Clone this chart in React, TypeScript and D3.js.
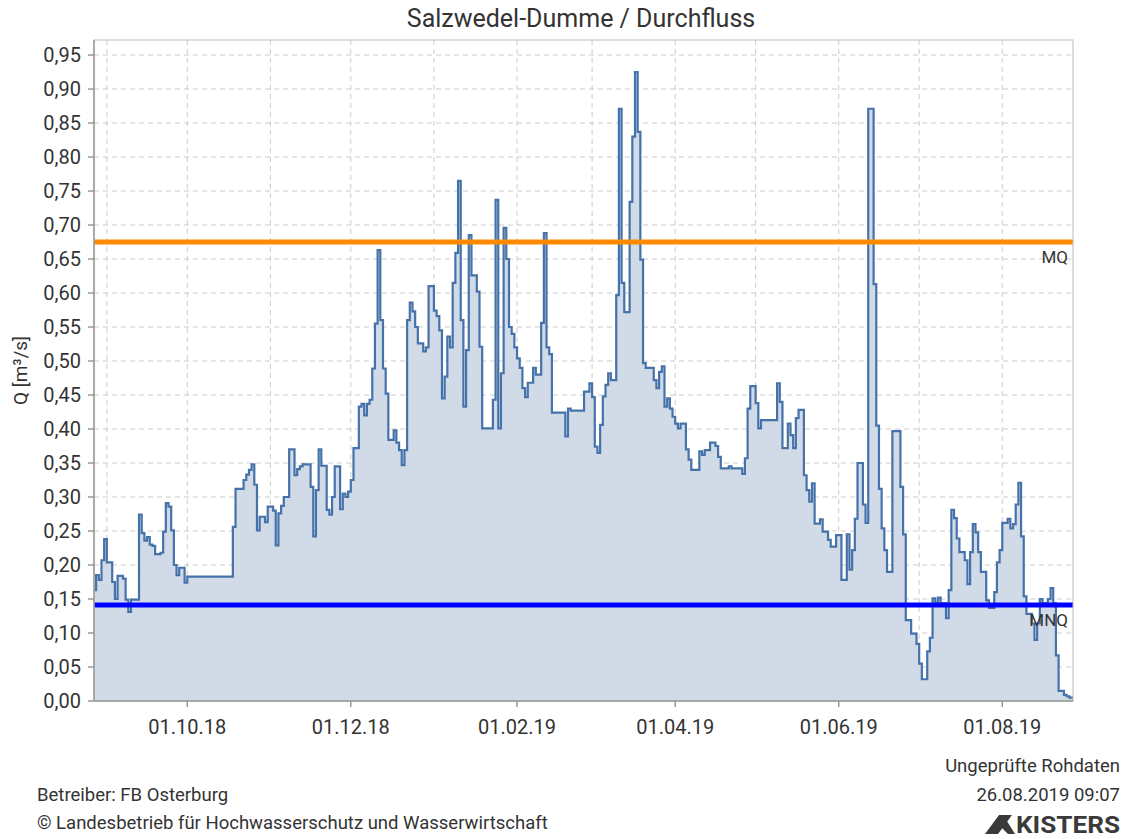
import React from 'react';
import * as d3 from 'd3';

// Series: day offsets (from 27.08.2018) where the daily value changes, and the value from that day on (m³/s)
const START = new Date(2018, 7, 27);
const changeDays = [
  0, 1, 2, 3, 4, 5, 7, 8, 9, 11, 12, 13, 14, 17, 18, 19, 20, 21, 22, 23, 25, 26, 27, 28, 29, 30, 31, 32, 34, 35,
  52, 53, 56, 57, 58, 59, 60, 61, 62, 64, 65, 67, 68, 69, 70, 71, 73, 75, 76, 77, 78, 81, 82, 83, 84, 85, 87, 88, 89, 90,
  92, 93, 94, 95, 96, 97, 99, 100, 101, 102, 103, 104, 105, 106, 107, 108, 109, 110, 112, 113, 114, 115, 116, 117, 118, 119, 120, 121, 123, 124,
  125, 127, 128, 129, 130, 131, 132, 133, 134, 135, 136, 137, 138, 139, 140, 141, 143, 144, 145, 149, 150, 151, 152, 153, 154, 155, 156, 157, 158, 159,
  160, 161, 162, 164, 165, 167, 168, 169, 170, 171, 176, 177, 178, 183, 185, 186, 187, 188, 189, 190, 191, 192, 193, 195, 196, 197, 198, 200, 201, 202,
  203, 204, 205, 206, 209, 210, 211, 212, 213, 214, 215, 216, 217, 218, 219, 221, 222, 223, 226, 227, 228, 230, 232, 233, 234, 237, 238, 242, 243, 244,
  245, 247, 248, 249, 255, 256, 257, 259, 260, 261, 262, 263, 265, 266, 267, 268, 269, 271, 272, 274, 275, 277, 279, 281, 282, 283, 284, 285, 287, 288,
  289, 291, 292, 293, 294, 295, 296, 298, 301, 302, 303, 305, 307, 308, 309, 311, 312, 313, 314, 315, 316, 318, 319, 320, 321, 322, 323, 325, 326, 327,
  328, 329, 330, 331, 333, 334, 336, 337, 338, 339, 341, 342, 343, 344, 345, 346, 347, 348, 350, 351, 352, 353, 354, 356, 357, 358, 359, 360, 362, 363,
  364,
];
const flowValues = [
  0.163, 0.185, 0.178, 0.207, 0.238, 0.204, 0.175, 0.150, 0.184, 0.180, 0.149, 0.131, 0.149, 0.274, 0.247, 0.236, 0.241, 0.230, 0.228, 0.216, 0.218, 0.249, 0.291, 0.286, 0.251, 0.200, 0.185, 0.196, 0.174, 0.183,
  0.256, 0.312, 0.325, 0.333, 0.340, 0.348, 0.318, 0.251, 0.271, 0.263, 0.286, 0.280, 0.229, 0.276, 0.287, 0.300, 0.370, 0.332, 0.341, 0.345, 0.348, 0.315, 0.242, 0.310, 0.370, 0.346, 0.281, 0.274, 0.300, 0.345,
  0.282, 0.305, 0.300, 0.308, 0.325, 0.372, 0.433, 0.437, 0.420, 0.437, 0.443, 0.489, 0.555, 0.663, 0.560, 0.489, 0.452, 0.384, 0.398, 0.380, 0.369, 0.347, 0.369, 0.560, 0.586, 0.573, 0.550, 0.526, 0.514, 0.520,
  0.610, 0.574, 0.566, 0.545, 0.445, 0.477, 0.536, 0.520, 0.615, 0.659, 0.765, 0.560, 0.433, 0.516, 0.685, 0.626, 0.602, 0.521, 0.401, 0.443, 0.737, 0.401, 0.482, 0.696, 0.650, 0.550, 0.540, 0.520, 0.504, 0.490,
  0.460, 0.447, 0.468, 0.490, 0.480, 0.556, 0.688, 0.520, 0.510, 0.424, 0.389, 0.430, 0.427, 0.455, 0.467, 0.447, 0.374, 0.365, 0.406, 0.448, 0.465, 0.482, 0.472, 0.597, 0.871, 0.615, 0.572, 0.734, 0.830, 0.925,
  0.837, 0.649, 0.497, 0.490, 0.472, 0.460, 0.484, 0.492, 0.433, 0.445, 0.430, 0.418, 0.408, 0.401, 0.408, 0.370, 0.355, 0.340, 0.367, 0.362, 0.369, 0.380, 0.375, 0.359, 0.342, 0.345, 0.342, 0.334, 0.357, 0.430,
  0.463, 0.438, 0.401, 0.413, 0.467, 0.440, 0.372, 0.408, 0.391, 0.372, 0.416, 0.428, 0.332, 0.310, 0.293, 0.320, 0.261, 0.267, 0.249, 0.237, 0.227, 0.244, 0.178, 0.245, 0.193, 0.222, 0.268, 0.350, 0.289, 0.262,
  0.871, 0.613, 0.405, 0.312, 0.254, 0.222, 0.190, 0.397, 0.315, 0.245, 0.119, 0.099, 0.084, 0.055, 0.032, 0.073, 0.093, 0.151, 0.144, 0.152, 0.144, 0.122, 0.163, 0.281, 0.269, 0.239, 0.219, 0.207, 0.172, 0.219,
  0.260, 0.248, 0.219, 0.190, 0.148, 0.137, 0.160, 0.204, 0.222, 0.262, 0.268, 0.254, 0.260, 0.289, 0.321, 0.242, 0.154, 0.128, 0.114, 0.090, 0.114, 0.150, 0.144, 0.150, 0.166, 0.144, 0.067, 0.015, 0.009, 0.007,
  0.005,
];

const yTicks = [0, 0.05, 0.1, 0.15, 0.2, 0.25, 0.3, 0.35, 0.4, 0.45, 0.5, 0.55, 0.6, 0.65, 0.7, 0.75, 0.8, 0.85, 0.9, 0.95];
const xTickDates = ['2018-10-01', '2018-12-01', '2019-02-01', '2019-04-01', '2019-06-01', '2019-08-01'];
const refNames = ['MQ', 'MNQ'];
const refValues = [0.675, 0.141];
const refColors = ['#ff8a00', '#0000ff'];

const title = 'Salzwedel-Dumme / Durchfluss';
const yLabel = 'Q [m³/s]';

export default function App() {
  const L = 94, R = 1073, T = 40, B = 701;
  const x = d3.scaleTime()
    .domain([new Date(2018, 7, 27, 5), new Date(2019, 7, 27, 9)])
    .range([L, R]);
  const y = d3.scaleLinear().domain([0, 0.9721]).range([B, T]);

  const pts = changeDays.map((d, i) => ({ date: d3.timeDay.offset(START, d), v: flowValues[i] }));
  pts.push({ date: x.domain()[1], v: flowValues[flowValues.length - 1] });

  const area = d3.area<any>().x(d => x(d.date)).y0(y(0)).y1(d => y(d.v)).curve(d3.curveStepAfter);
  const line = d3.line<any>().x(d => x(d.date)).y(d => y(d.v)).curve(d3.curveStepAfter);

  const months = d3.timeMonth.range(x.domain()[0], x.domain()[1]);
  const parse = d3.timeParse('%Y-%m-%d');
  const xTicks = xTickDates.map(s => parse(s) as Date);
  const fmtX = d3.timeFormat('%d.%m.%y');
  const fmtY = (v: number) => d3.format('.2f')(v).replace('.', ',');

  const font = 'Roboto, sans-serif';
  const txt = '#333333';

  return (
    <svg width={1124} height={839} style={{ position: 'absolute', left: 0, top: 0, background: '#fff' }} fontFamily={font}>
      <defs>
        <clipPath id="plot"><rect x={L} y={T} width={R - L} height={B - T} /></clipPath>
      </defs>
      <text x={581} y={27} textAnchor="middle" fontSize={25} fill={txt}>{title}</text>

      {/* grid */}
      <g stroke="#cccccc" strokeWidth={1} strokeDasharray="5,4">
        {yTicks.slice(1).map(t => <line key={'gy' + t} x1={L} x2={R} y1={y(t)} y2={y(t)} />)}
        {months.map(m => <line key={'gx' + m.getTime()} x1={x(m)} x2={x(m)} y1={T} y2={B} />)}
      </g>

      <g clipPath="url(#plot)">
        <path d={area(pts) || ''} fill="#d1dbe8" />
        <path d={line(pts) || ''} fill="none" stroke="#4672aa" strokeWidth={2.2} />
        {refValues.map((v, i) => (
          <line key={refNames[i]} x1={L} x2={R} y1={y(v)} y2={y(v)} stroke={refColors[i]} strokeWidth={5} />
        ))}
      </g>
      {refValues.map((v, i) => (
        <text key={'l' + refNames[i]} x={1068} y={y(v) + 21} textAnchor="end" fontSize={17} fill={txt}>{refNames[i]}</text>
      ))}

      {/* frame */}
      <rect x={L} y={T} width={R - L} height={B - T} fill="none" stroke="#bbbbbb" strokeWidth={1} />
      <line x1={L} x2={L} y1={T} y2={B} stroke="#999999" strokeWidth={1.5} />
      <line x1={L} x2={R} y1={B} y2={B} stroke="#999999" strokeWidth={1.5} />

      {/* y axis */}
      {yTicks.map(t => (
        <g key={'yt' + t}>
          <line x1={L - 6} x2={L} y1={y(t)} y2={y(t)} stroke="#999999" strokeWidth={1.5} />
          <text x={L - 13} y={y(t)} dy="0.35em" textAnchor="end" fontSize={20} fill={txt}>{fmtY(t)}</text>
        </g>
      ))}
      <text transform={`translate(27,${(T + B) / 2}) rotate(-90)`} textAnchor="middle" fontSize={19} fill={txt}>{yLabel}</text>

      {/* x axis */}
      {xTicks.map(d => (
        <g key={'xt' + d.getTime()}>
          <line x1={x(d)} x2={x(d)} y1={B} y2={B + 6} stroke="#999999" strokeWidth={1.5} />
          <text x={x(d)} y={734} textAnchor="middle" fontSize={20} fill={txt}>{fmtX(d)}</text>
        </g>
      ))}

      {/* footer */}
      <text x={1120} y={772} textAnchor="end" fontSize={18.5} fill={txt}>Ungeprüfte Rohdaten</text>
      <text x={1120} y={801} textAnchor="end" fontSize={18.5} fill={txt}>26.08.2019 09:07</text>
      <text x={37} y={801} fontSize={18.5} fill={txt}>Betreiber: FB Osterburg</text>
      <text x={37} y={829} fontSize={18.5} fill={txt}>© Landesbetrieb für Hochwasserschutz und Wasserwirtschaft</text>
      <g fill="#3a3a3a">
        <polygon points="985,834 998,834 1012,815 999,815" />
        <polygon points="999,825 1005,818 1015,834 1008,834" />
        <text x={1120} y={833} textAnchor="end" fontSize={23} fontWeight={700} fill="#3a3a3a" textLength={104} lengthAdjust="spacingAndGlyphs">KISTERS</text>
      </g>
    </svg>
  );
}
